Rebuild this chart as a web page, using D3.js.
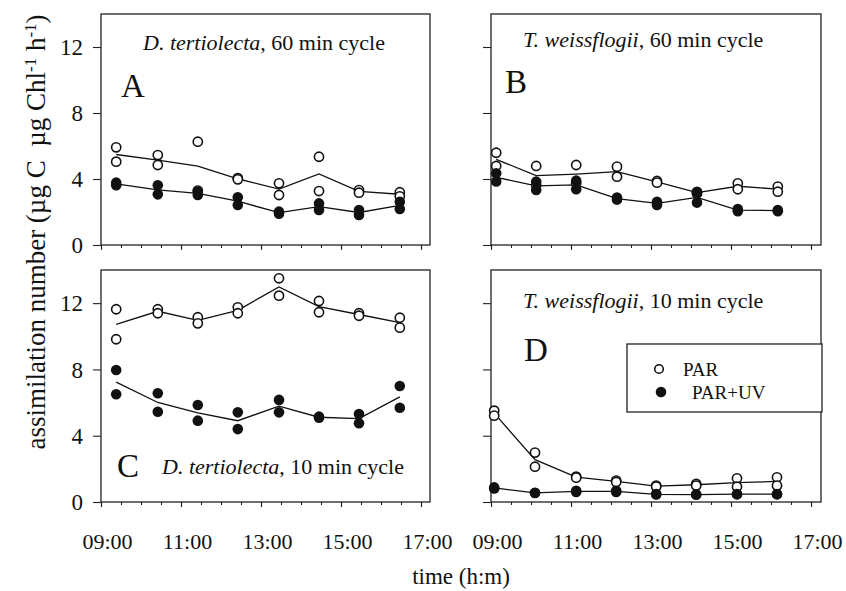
<!DOCTYPE html>
<html>
<head>
<meta charset="utf-8">
<script src="https://cdn.jsdelivr.net/npm/d3@7"></script>
<style>
  html, body { margin: 0; padding: 0; background: #fff; }
  svg { display: block; }
  text { font-family: "Liberation Serif", "Times New Roman", serif; fill: #111; }
</style>
</head>
<body>
<svg id="chart" width="846" height="591"></svg>
<script>
// ---- data (hours of day; replicate pairs) ----
const timesA = [9.38, 10.42, 11.42, 12.42, 13.45, 14.45, 15.45, 16.47];
const parA = [[5.92, 5.05], [5.45, 4.85], [6.26, 3.3], [4.05, 3.98], [3.74, 3.03], [5.35, 3.27], [3.33, 3.17], [3.2, 2.95]];
const uvA  = [[3.78, 3.62], [3.62, 3.07], [3.23, 3.03], [2.89, 2.42], [2.02, 1.9], [2.52, 2.12], [2.12, 1.82], [2.62, 2.18]];

const timesB = [9.13, 10.13, 11.13, 12.15, 13.15, 14.15, 15.17, 16.17];
const parB = [[5.59, 4.79], [4.79, 3.62], [4.85, 3.75], [4.75, 4.14], [3.88, 3.78], [3.22, 3.12], [3.74, 3.38], [3.54, 3.23]];
const uvB  = [[4.35, 3.85], [3.84, 3.33], [3.9, 3.38], [2.88, 2.75], [2.62, 2.42], [3.2, 2.57], [2.18, 2.05], [2.12, 2.05]];

const timesC = [9.38, 10.42, 11.42, 12.42, 13.45, 14.45, 15.45, 16.47];
const parC = [[11.63, 9.82], [11.63, 11.39], [11.15, 10.78], [11.75, 11.39], [13.5, 12.45], [12.13, 11.45], [11.39, 11.24], [11.12, 10.52]];
const uvC  = [[7.97, 6.5], [6.56, 5.45], [5.85, 4.91], [5.41, 4.4], [6.16, 5.41], [5.15, 5.08], [5.31, 4.75], [7.0, 5.69]];

const timesD = [9.08, 10.1, 11.13, 12.13, 13.13, 14.13, 15.15, 16.15];
const parD = [[5.51, 5.21], [2.98, 2.13], [1.53, 1.47], [1.29, 1.2], [0.99, 0.93], [1.09, 0.99], [1.43, 0.92], [1.49, 0.99]];
const uvD  = [[0.88, 0.82], [0.56, 0.54], [0.68, 0.6], [0.68, 0.6], [0.48, 0.45], [0.46, 0.44], [0.48, 0.46], [0.48, 0.46]];

const yTicks = [0, 4, 8, 12];
const xMajor = [9, 11, 13, 15, 17];
const xLabels = ["09:00", "11:00", "13:00", "15:00", "17:00"];
const legendLabels = ["PAR", "PAR+UV"];

// ---- layout ----
const panels = [
  {key: "A", x: 101, y: 14,  w: 329, h: 231, t: timesA, par: parA, uv: uvA, left: true,  bottom: false,
   letter: {x: 121, y: 97}, title: {x: 143, y: 50, it: "D. tertiolecta", rest: ", 60 min cycle"}},
  {key: "B", x: 491, y: 14,  w: 330, h: 231, t: timesB, par: parB, uv: uvB, left: false, bottom: false,
   letter: {x: 505, y: 93}, title: {x: 523, y: 47, it: "T. weissflogii", rest: ", 60 min cycle"}},
  {key: "C", x: 101, y: 270, w: 329, h: 232, t: timesC, par: parC, uv: uvC, left: true,  bottom: true,
   letter: {x: 117, y: 477}, title: {x: 162, y: 474, it: "D. tertiolecta", rest: ", 10 min cycle"}},
  {key: "D", x: 491, y: 270, w: 330, h: 232, t: timesD, par: parD, uv: uvD, left: false, bottom: true,
   letter: {x: 524, y: 361}, title: {x: 523, y: 308, it: "T. weissflogii", rest: ", 10 min cycle"}}
];

const svg = d3.select("#chart");
const fmtLabel = d => xLabels[xMajor.indexOf(d)];

panels.forEach(p => {
  const g = svg.append("g").attr("transform", `translate(${p.x},${p.y})`);
  const x = d3.scaleLinear().domain([9, 17 + (p.w - 320) / 40]).range([0, p.w]);
  const y = d3.scaleLinear().domain([0, 14]).range([p.h, 0]);

  // minor x ticks
  const minor = g.append("g").attr("transform", `translate(0,${p.h})`)
    .call(d3.axisBottom(x).tickValues(d3.range(9, 17.01, 0.5)).tickSize(3).tickFormat(""));
  minor.select(".domain").remove();
  const major = g.append("g").attr("transform", `translate(0,${p.h})`)
    .call(d3.axisBottom(x).tickValues(xMajor).tickSize(5).tickPadding(26)
      .tickFormat(p.bottom ? fmtLabel : ""));
  major.select(".domain").remove();
  major.selectAll("text").attr("dx", 6).style("font-size", "22px")
    .style("font-family", "Liberation Serif, serif").attr("fill", "#111");

  const ya = g.append("g")
    .call(d3.axisLeft(y).tickValues(yTicks).tickSize(8).tickPadding(10)
      .tickFormat(p.left ? d3.format("d") : ""));
  ya.select(".domain").remove();
  ya.selectAll("text").style("font-size", "23px").style("font-family", "Liberation Serif, serif")
    .attr("fill", "#111").attr("dy", "0.34em");
  g.selectAll(".tick line").attr("stroke", "#222").attr("stroke-width", 1.1);

  // frame
  g.append("rect").attr("x", 0).attr("y", 0).attr("width", p.w).attr("height", p.h)
    .attr("fill", "none").attr("stroke", "#222").attr("stroke-width", 1.3);

  const line = d3.line().x((d, i) => x(p.t[i])).y(d => y(d3.mean(d)));
  g.append("path").attr("d", line(p.par)).attr("fill", "none").attr("stroke", "#111").attr("stroke-width", 1.3);
  g.append("path").attr("d", line(p.uv)).attr("fill", "none").attr("stroke", "#111").attr("stroke-width", 1.3);

  const parPts = p.par.flatMap((pair, i) => pair.map(v => ({t: p.t[i], v})));
  const uvPts = p.uv.flatMap((pair, i) => pair.map(v => ({t: p.t[i], v})));
  g.selectAll(".par").data(parPts).enter().append("circle")
    .attr("cx", d => x(d.t)).attr("cy", d => y(d.v)).attr("r", 4.6)
    .attr("fill", "#fff").attr("stroke", "#111").attr("stroke-width", 1.6);
  g.selectAll(".uv").data(uvPts).enter().append("circle")
    .attr("cx", d => x(d.t)).attr("cy", d => y(d.v)).attr("r", 5.3)
    .attr("fill", "#111");

  // letter & title
  svg.append("text").attr("x", p.letter.x).attr("y", p.letter.y)
    .style("font-size", "33px").text(p.key);
  const tt = svg.append("text").attr("x", p.title.x).attr("y", p.title.y).style("font-size", "22px");
  tt.append("tspan").style("font-style", "italic").text(p.title.it);
  tt.append("tspan").text(p.title.rest);
});

// legend (in panel D)
const lg = svg.append("g");
lg.append("rect").attr("x", 627).attr("y", 344).attr("width", 195).attr("height", 68)
  .attr("fill", "#fff").attr("stroke", "#222").attr("stroke-width", 1.3);
lg.append("circle").attr("cx", 659).attr("cy", 369).attr("r", 4.3)
  .attr("fill", "#fff").attr("stroke", "#111").attr("stroke-width", 1.6);
lg.append("circle").attr("cx", 661).attr("cy", 392).attr("r", 5.3).attr("fill", "#111");
lg.append("text").attr("x", 683).attr("y", 376).style("font-size", "19px").text(legendLabels[0]);
lg.append("text").attr("x", 692).attr("y", 399).style("font-size", "19px").text(legendLabels[1]);

// axis titles
svg.append("text").attr("x", 461).attr("y", 584).attr("text-anchor", "middle")
  .style("font-size", "23px").text("time (h:m)");

const yt = svg.append("text").attr("transform", "translate(45,232) rotate(-90)")
  .attr("text-anchor", "middle").style("font-size", "27px");
yt.append("tspan").text("assimilation number (µg C\u00A0\u00A0µg Chl");
yt.append("tspan").attr("baseline-shift", "super").style("font-size", "17px").text("-1");
yt.append("tspan").text(" h");
yt.append("tspan").attr("baseline-shift", "super").style("font-size", "17px").text("-1");
yt.append("tspan").text(")");
</script>
</body>
</html>
